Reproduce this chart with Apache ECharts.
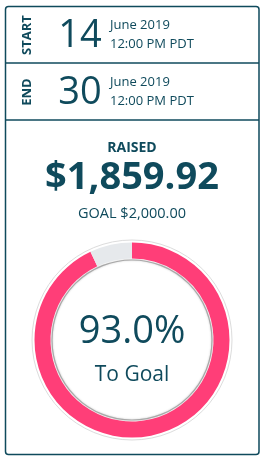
<!DOCTYPE html>
<html><head><meta charset="utf-8">
<script src="https://cdn.jsdelivr.net/npm/echarts@6/dist/echarts.min.js"></script>
<style>html,body{margin:0;padding:0;background:#fff;}#c{width:266px;height:463px;}</style>
</head><body><div id="c"></div>
<script>
var periodLabels = ['START', 'END'];
var periodDays = ['14', '30'];
var periodMonths = ['June 2019', 'June 2019'];
var periodTimes = ['12:00 PM PDT', '12:00 PM PDT'];
var raised = 1859.92;
var goal = 2000.00;
var progressNames = ['Raised', 'Remaining'];

var TEAL = '#0f4a5c';
var FONT = '"Open Sans", sans-serif';
function money(v){ return '$' + v.toLocaleString('en-US',{minimumFractionDigits:2, maximumFractionDigits:2}); }
var pct = raised / goal * 100;
var progressValues = [raised, goal - raised];

var chart = echarts.init(document.getElementById('c'), null, {renderer:'canvas'});
var g = [];
// outer box
g.push({type:'rect', shape:{x:5.5, y:6.5, width:253.5, height:448, r:3}, style:{fill:'#fff', stroke:TEAL, lineWidth:1.5}, z:0});
g.push({type:'line', shape:{x1:5.5, y1:63, x2:259, y2:63}, style:{stroke:TEAL, lineWidth:1.5}, z:1});
g.push({type:'line', shape:{x1:5.5, y1:120, x2:259, y2:120}, style:{stroke:TEAL, lineWidth:1.5}, z:1});
var rowCY = [35, 92];
for (var i = 0; i < 2; i++) {
  g.push({type:'text', x:27, y:rowCY[i], rotation:Math.PI/2, style:{text:periodLabels[i], font:'bold 13px '+FONT, fill:TEAL, align:'center', verticalAlign:'middle'}, z:2});
  g.push({type:'text', x:80, y:rowCY[i]+1, style:{text:periodDays[i], font:'38px '+FONT, fill:TEAL, align:'center', verticalAlign:'middle'}, z:2});
  g.push({type:'text', x:110, y:rowCY[i]-10, style:{text:periodMonths[i], font:'13px '+FONT, fill:TEAL, align:'left', verticalAlign:'middle'}, z:2});
  g.push({type:'text', x:110, y:rowCY[i]+9, style:{text:periodTimes[i], font:'13px '+FONT, fill:TEAL, align:'left', verticalAlign:'middle'}, z:2});
}
g.push({type:'text', x:132, y:148, style:{text:'RAISED', font:'bold 14px '+FONT, fill:TEAL, align:'center', verticalAlign:'middle'}, z:2});
g.push({type:'text', x:132, y:178, style:{text:money(raised), font:'bold 38px '+FONT, fill:TEAL, align:'center', verticalAlign:'middle'}, z:2});
g.push({type:'text', x:132, y:214, style:{text:'GOAL ' + money(goal), font:'14.5px '+FONT, fill:TEAL, align:'center', verticalAlign:'middle'}, z:2});
// ring decorations
g.push({type:'circle', shape:{cx:132, cy:340, r:100}, style:{fill:'none', stroke:'#dcdcdc', lineWidth:1}, z:1});
g.push({type:'circle', shape:{cx:132, cy:340, r:80}, style:{fill:'none', stroke:'#a8a8a8', lineWidth:1.2, shadowBlur:2, shadowColor:'rgba(0,0,0,0.25)'}, z:1});
g.push({type:'text', x:132, y:332, style:{text:pct.toFixed(1) + '%', font:'38px '+FONT, fill:TEAL, align:'center', verticalAlign:'middle'}, z:3});
g.push({type:'text', x:132, y:375, style:{text:'To Goal', font:'21px '+FONT, fill:TEAL, align:'center', verticalAlign:'middle'}, z:3});

chart.setOption({
  animation:false,
  graphic:{elements:g},
  series:[{
    type:'pie', center:[132,340], radius:[81.5,97.5], startAngle:90, clockwise:true,
    label:{show:false}, labelLine:{show:false}, silent:true, z:2,
    data:[
      {name:progressNames[0], value:progressValues[0], itemStyle:{color:'#ff3e78'}},
      {name:progressNames[1], value:progressValues[1], itemStyle:{color:'#e6e9ec'}}
    ]
  }]
});
</script></body></html>
